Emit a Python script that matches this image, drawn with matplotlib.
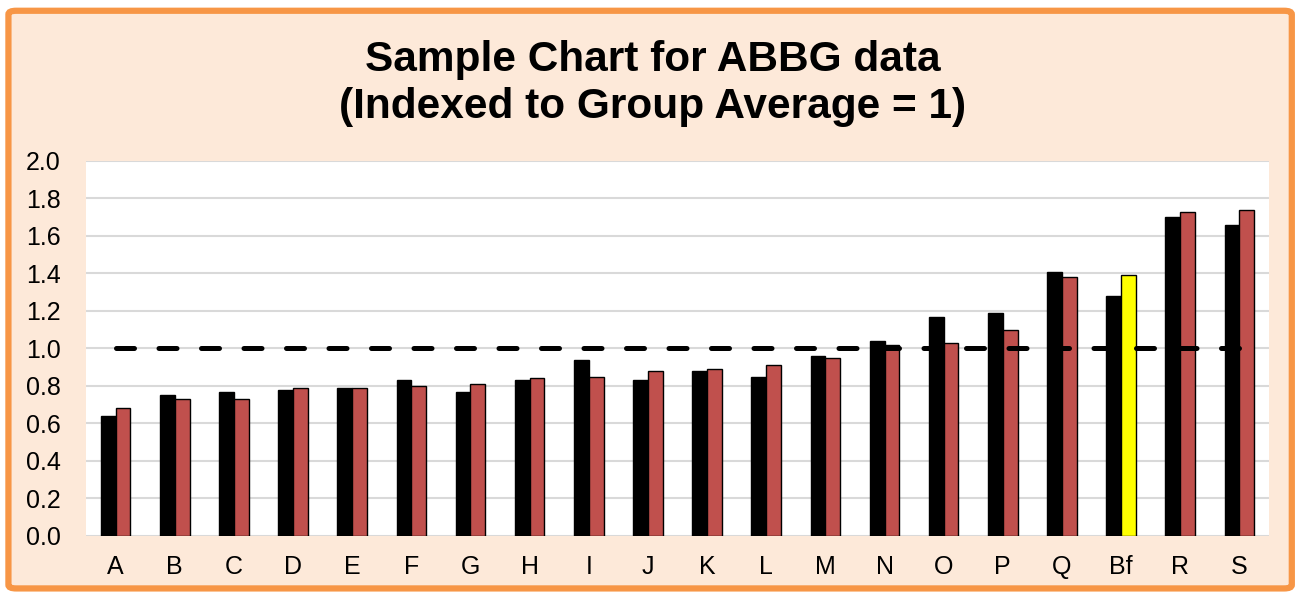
import numpy as np
import matplotlib.pyplot as plt
from matplotlib.patches import FancyBboxPatch

plt.rcParams['font.family'] = ['Liberation Sans', 'DejaVu Sans']

categories = ['A', 'B', 'C', 'D', 'E', 'F', 'G', 'H', 'I', 'J',
              'K', 'L', 'M', 'N', 'O', 'P', 'Q', 'Bf', 'R', 'S']
series_1 = [0.64, 0.75, 0.77, 0.78, 0.79, 0.83, 0.77, 0.83, 0.94, 0.83,
            0.88, 0.85, 0.96, 1.04, 1.17, 1.19, 1.41, 1.28, 1.70, 1.66]
series_2 = [0.68, 0.73, 0.73, 0.79, 0.79, 0.80, 0.81, 0.84, 0.85, 0.88,
            0.89, 0.91, 0.95, 1.02, 1.03, 1.10, 1.38, 1.39, 1.73, 1.74]
group_avg = [1.0] * len(categories)
highlight = 'Bf'

# 图形和背景
fig = plt.figure(figsize=(12.97, 5.98), dpi=100)
fig.patch.set_facecolor('white')
border = FancyBboxPatch((0.0065, 0.016), 0.9895, 0.966,
                        boxstyle='round,pad=0,rounding_size=0.006',
                        transform=fig.transFigure, facecolor='#FDE9D9',
                        edgecolor='#F79646', linewidth=4.5, zorder=-5)
fig.patches.append(border)

ax = fig.add_axes([0.0663, 0.1037, 0.9121, 0.6271])
ax.set_zorder(1)
ax.set_facecolor('white')

x = np.arange(len(categories))
w = 0.25
colors_2 = ['#FFFF00' if c == highlight else '#C0504D' for c in categories]
ax.bar(x - w / 2, series_1, width=w, color='black', edgecolor='black',
       linewidth=1, zorder=3)
ax.bar(x + w / 2, series_2, width=w, color=colors_2, edgecolor='black',
       linewidth=1, zorder=3)

# 组平均虚线
line, = ax.plot(x, group_avg, color='black', linewidth=3.6, zorder=4,
                dash_capstyle='round')
line.set_dashes((3.6, 4.9))

ax.set_xlim(-0.5, len(categories) - 0.5)
ax.set_ylim(0, 2.0)
ax.set_yticks(np.arange(0, 2.01, 0.2))
ax.set_yticklabels([f'{v:.1f}' for v in np.arange(0, 2.01, 0.2)])
ax.set_xticks(x)
ax.set_xticklabels(categories)
ax.tick_params(axis='both', length=0, labelsize=18)
ax.tick_params(axis='x', pad=14)
ax.tick_params(axis='y', pad=18)
ax.grid(axis='y', color='#D9D9D9', linewidth=1.5, zorder=0)
ax.set_axisbelow(True)
for s in ax.spines.values():
    s.set_visible(False)

fig.text(0.503, 0.861, 'Sample Chart for ABBG data\n(Indexed to Group Average = 1)',
         ha='center', va='center', fontsize=30.5, fontweight='bold',
         linespacing=1.22)

plt.savefig('out.png', dpi=100, facecolor=fig.get_facecolor())
